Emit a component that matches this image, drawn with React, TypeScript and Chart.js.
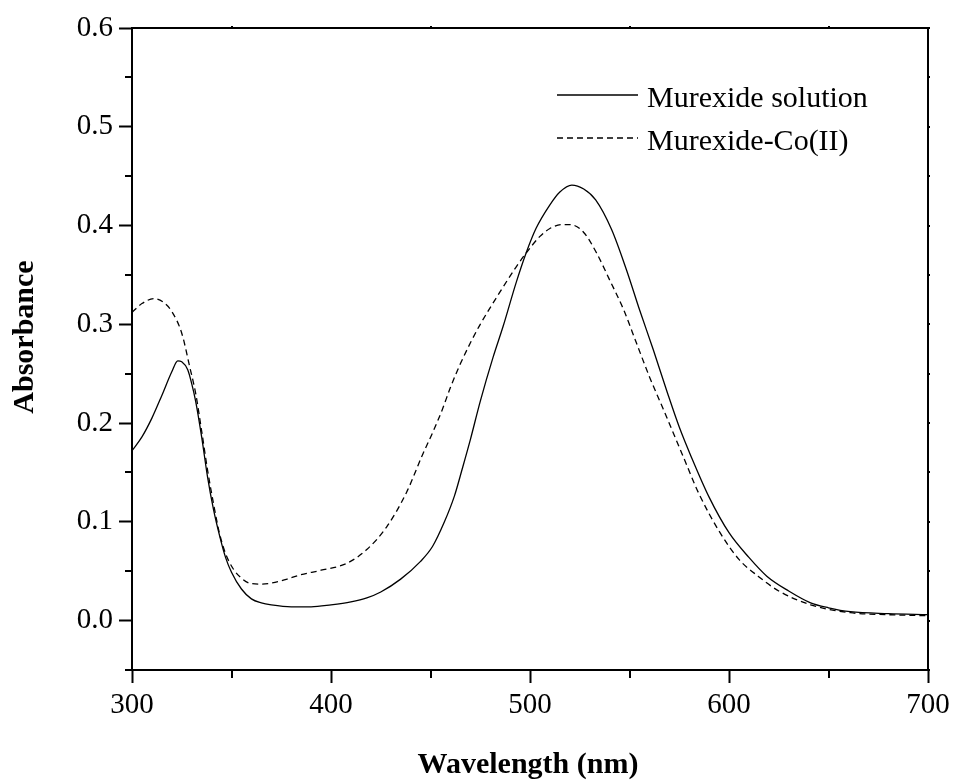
import { useEffect, useRef } from 'react';
import { Chart, registerables } from 'chart.js';

Chart.register(...registerables);

const SERIES_LABELS = ['Murexide solution', 'Murexide-Co(II)'];
const X_TITLE = 'Wavelength (nm)';
const Y_TITLE = 'Absorbance';

const WL_SOLUTION = [
  300, 305, 310, 315, 320, 323, 325, 328, 330, 332, 335, 338, 341, 344, 347, 350, 355, 360, 365, 370,
  380, 390, 400, 410, 418, 425, 435, 445, 451, 457, 462, 466, 470, 475, 481.5, 486.5, 493, 498, 503,
  510, 515, 521, 527, 533, 541, 548.5, 555, 562, 569, 575, 581, 590, 600, 610, 619, 630, 641, 650,
  661, 680, 700,
];
const ABS_SOLUTION = [
  0.172, 0.186, 0.205, 0.228, 0.252, 0.263, 0.262, 0.254, 0.24, 0.222, 0.186, 0.145, 0.112, 0.086,
  0.064, 0.049, 0.032, 0.022, 0.018, 0.016, 0.014, 0.014, 0.016, 0.019, 0.023, 0.029, 0.042, 0.06,
  0.075, 0.1, 0.126, 0.154, 0.183, 0.222, 0.267, 0.298, 0.342, 0.372, 0.397, 0.421, 0.434, 0.441,
  0.437, 0.426, 0.396, 0.355, 0.315, 0.274, 0.231, 0.196, 0.166, 0.125, 0.089, 0.064, 0.045, 0.03,
  0.018, 0.013, 0.009, 0.007, 0.006,
];

const WL_COBALT = [
  300, 305, 311, 316, 320, 325, 329, 332, 335, 338, 341, 344, 347, 351, 355, 359, 365, 370, 378, 384,
  395, 408, 418, 428, 438, 446, 451, 456, 460, 465, 470, 475, 485, 493, 498, 505, 510, 516, 520, 527,
  533.5, 540, 547, 553.5, 560, 567, 577, 585, 595.5, 605, 614.6, 625, 641, 661, 680, 700,
];
const ABS_COBALT = [
  0.312, 0.321, 0.326, 0.322, 0.313, 0.291, 0.257, 0.23, 0.192, 0.152, 0.118, 0.088, 0.068, 0.052,
  0.043, 0.038, 0.037, 0.038, 0.042, 0.046, 0.051, 0.058, 0.072, 0.095, 0.13, 0.168, 0.19, 0.214,
  0.236, 0.26, 0.281, 0.3, 0.333, 0.358, 0.372, 0.389, 0.397, 0.401, 0.401, 0.393, 0.372, 0.345,
  0.315, 0.281, 0.247, 0.214, 0.166, 0.128, 0.089, 0.062, 0.045, 0.03, 0.016, 0.008, 0.006, 0.005,
];

const X_TICKS = [300, 400, 500, 600, 700];
const X_MINOR = [350, 450, 550, 650];
const Y_TICKS = [0, 0.1, 0.2, 0.3, 0.4, 0.5, 0.6];
const Y_MINOR = [-0.05, 0.05, 0.15, 0.25, 0.35, 0.45, 0.55];

const SERIF = "'Liberation Serif', 'Times New Roman', serif";

const overlayPlugin = {
  id: 'overlay',
  afterDraw(chart: any) {
    const ctx = chart.ctx as CanvasRenderingContext2D;
    const { left, right, top, bottom } = chart.chartArea;
    const xs = chart.scales.x;
    const ys = chart.scales.y;
    ctx.save();
    ctx.strokeStyle = '#000';
    ctx.lineWidth = 2;
    // top and right frame lines
    ctx.beginPath();
    ctx.moveTo(left - 1, top);
    ctx.lineTo(right, top);
    ctx.lineTo(right, bottom + 1);
    ctx.stroke();
    // minor ticks
    ctx.beginPath();
    for (const v of Y_MINOR) {
      const py = Math.round(ys.getPixelForValue(v));
      ctx.moveTo(left - 7, py);
      ctx.lineTo(left, py);
      ctx.moveTo(right, py);
      ctx.lineTo(right + 2, py);
    }
    for (const v of Y_TICKS) {
      const py = Math.round(ys.getPixelForValue(v));
      ctx.moveTo(right, py);
      ctx.lineTo(right + 2, py);
    }
    for (const v of X_MINOR) {
      const px = Math.round(xs.getPixelForValue(v));
      ctx.moveTo(px, bottom);
      ctx.lineTo(px, bottom + 8);
      ctx.moveTo(px, top);
      ctx.lineTo(px, top - 2);
    }
    ctx.stroke();

    // legend
    chart.data.datasets.forEach((ds: any, i: number) => {
      const baseY = 107 + i * 43;
      ctx.save();
      ctx.lineWidth = ds.borderWidth;
      ctx.strokeStyle = ds.borderColor;
      ctx.setLineDash(ds.borderDash || []);
      ctx.beginPath();
      ctx.moveTo(557, baseY - 12);
      ctx.lineTo(638, baseY - 12);
      ctx.stroke();
      ctx.restore();
      ctx.fillStyle = '#000';
      ctx.font = `30px ${SERIF}`;
      ctx.textAlign = 'left';
      ctx.textBaseline = 'alphabetic';
      ctx.fillText(ds.label, 647, baseY);
    });

    // axis titles
    ctx.fillStyle = '#000';
    ctx.font = `bold 30px ${SERIF}`;
    ctx.textAlign = 'center';
    ctx.textBaseline = 'middle';
    ctx.fillText(X_TITLE, (left + right) / 2 - 2, 765);
    ctx.save();
    ctx.translate(25, 337);
    ctx.rotate(-Math.PI / 2);
    ctx.fillText(Y_TITLE, 0, 0);
    ctx.restore();
    ctx.restore();
  },
};

export default function App() {
  const ref = useRef<HTMLCanvasElement | null>(null);

  useEffect(() => {
    if (!ref.current) return;
    const chart = new Chart(ref.current, {
      type: 'line',
      data: {
        datasets: [
          {
            label: SERIES_LABELS[0],
            data: WL_SOLUTION.map((x, i) => ({ x, y: ABS_SOLUTION[i] })),
            borderColor: '#000',
            borderWidth: 1.3,
            pointRadius: 0,
            cubicInterpolationMode: 'monotone',
            fill: false,
          },
          {
            label: SERIES_LABELS[1],
            data: WL_COBALT.map((x, i) => ({ x, y: ABS_COBALT[i] })),
            borderColor: '#000',
            borderWidth: 1.3,
            borderDash: [6, 4],
            pointRadius: 0,
            cubicInterpolationMode: 'monotone',
            fill: false,
          },
        ],
      },
      options: {
        animation: false,
        responsive: false,
        events: [],
        layout: { padding: { left: 0, right: 28, top: 28, bottom: 0 } },
        plugins: { legend: { display: false }, tooltip: { enabled: false } },
        scales: {
          x: {
            type: 'linear',
            position: 'bottom',
            min: 300,
            max: 700,
            afterBuildTicks: (s: any) => {
              s.ticks = X_TICKS.map((v) => ({ value: v }));
            },
            afterFit: (s: any) => {
              s.height = 112;
            },
            grid: { drawOnChartArea: false, tickLength: 13, tickWidth: 2, tickColor: '#000' },
            border: { display: true, color: '#000', width: 2 },
            ticks: {
              color: '#000',
              padding: 5,
              maxRotation: 0,
              autoSkip: false,
              font: { family: SERIF, size: 29 },
              callback: (v: any) => String(v),
            },
          },
          y: {
            type: 'linear',
            min: -0.05,
            max: 0.6,
            afterBuildTicks: (s: any) => {
              s.ticks = Y_TICKS.map((v) => ({ value: v }));
            },
            afterFit: (s: any) => {
              s.width = 132;
            },
            grid: { drawOnChartArea: false, tickLength: 13, tickWidth: 2, tickColor: '#000' },
            border: { display: true, color: '#000', width: 2 },
            ticks: {
              color: '#000',
              padding: 6,
              autoSkip: false,
              font: { family: SERIF, size: 29 },
              callback: (v: any) => Number(v).toFixed(1),
            },
          },
        },
      },
      plugins: [overlayPlugin],
    } as any);
    return () => chart.destroy();
  }, []);

  return (
    <div style={{ position: 'fixed', left: 0, top: 0, width: 956, height: 782, background: '#fff' }}>
      <canvas ref={ref} width={956} height={782} style={{ width: 956, height: 782 }} />
    </div>
  );
}
